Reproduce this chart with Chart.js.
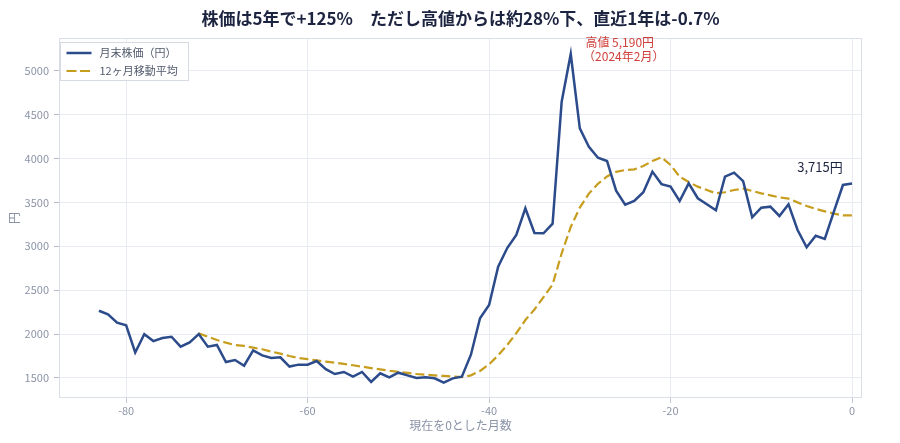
<!DOCTYPE html>
<html lang="ja">
<head>
<meta charset="utf-8">
<title>株価チャート</title>
<script src="https://cdn.jsdelivr.net/npm/chart.js@4.4.1/dist/chart.umd.min.js"></script>
<style>
  html, body { margin: 0; padding: 0; background: #ffffff; }
  #wrap { width: 900px; height: 443px; }
</style>
</head>
<body>
<div id="wrap"><canvas id="c" width="900" height="443"></canvas></div>
<script>
// ---- data ----
const months = [-83,-82,-81,-80,-79,-78,-77,-76,-75,-74,-73,-72,-71,-70,-69,-68,-67,-66,-65,-64,
  -63,-62,-61,-60,-59,-58,-57,-56,-55,-54,-53,-52,-51,-50,-49,-48,-47,-46,-45,-44,
  -43,-42,-41,-40,-39,-38,-37,-36,-35,-34,-33,-32,-31,-30,-29,-28,-27,-26,-25,-24,
  -23,-22,-21,-20,-19,-18,-17,-16,-15,-14,-13,-12,-11,-10,-9,-8,-7,-6,-5,-4,-3,-2,-1,0];

const monthlyPrice = [2266,2225,2130,2100,1790,1998,1920,1955,1970,1857,1906,2000,1857,1876,1682,1705,1640,1815,1758,1728,
  1735,1630,1652,1651,1693,1600,1545,1568,1515,1568,1455,1553,1508,1560,1530,1500,1508,1496,1447,1496,
  1515,1765,2180,2331,2768,2980,3129,3433,3152,3148,3257,4647,5190,4343,4134,4009,3971,3633,3474,3516,
  3615,3850,3708,3679,3516,3717,3547,3478,3410,3793,3838,3741,3330,3440,3451,3345,3478,3185,2988,3120,3083,3394,3698,3715];

const movingAvg12 = [null,null,null,null,null,null,null,null,null,null,null,2008,1970,1933,1902,1876,1865,1845,1827,1800,
  1777,1750,1728,1715,1700,1686,1674,1660,1645,1629,1613,1598,1583,1570,1558,1545,1537,1530,1523,1516,
  1510,1530,1580,1655,1758,1876,2010,2160,2280,2420,2565,2920,3220,3440,3600,3712,3795,3848,3868,3876,
  3914,3971,4013,3926,3793,3732,3679,3641,3603,3615,3641,3656,3630,3603,3580,3557,3542,3500,3459,3425,3398,3372,3353,3353];

const xTicks = [-80, -60, -40, -20, 0];
const yTicks = [1500, 2000, 2500, 3000, 3500, 4000, 4500, 5000];

const seriesNames = ['月末株価（円）', '12ヶ月移動平均'];
const titleText = '株価は5年で+125%　ただし高値からは約28%下、直近1年は-0.7%';
const peakMonth = -31, peakValue = 5190;
const peakLabel = ['高値 5,190円', '（2024年2月）'];
const lastLabel = '3,715円';

// ---- styles ----
const FONT = '"Noto Sans CJK JP", "Noto Sans", sans-serif';
const BLUE = '#2c4b8b';
const GOLD = '#c79d1e';
const DASH = [9, 4];
const GRID = '#e8ebf1';
const TICKC = '#8a93a6';

const priceData = months.map((m, i) => ({ x: m, y: monthlyPrice[i] }));
const maData = months.map((m, i) => ({ x: m, y: movingAvg12[i] }));

const frame = {
  id: 'frame',
  beforeDatasetsDraw(chart) {
    const { ctx, chartArea: a } = chart;
    ctx.save();
    ctx.strokeStyle = '#dadee6';
    ctx.lineWidth = 1;
    ctx.strokeRect(a.left + 0.5, a.top + 0.5, a.right - a.left - 1, a.bottom - a.top - 1);
    ctx.restore();
  }
};

const notes = {
  id: 'notes',
  afterDatasetsDraw(chart) {
    const { ctx } = chart;
    const xs = chart.scales.x, ys = chart.scales.y;
    ctx.save();
    ctx.textAlign = 'center';
    ctx.textBaseline = 'middle';
    // peak label
    const px = xs.getPixelForValue(peakMonth) + 50;
    const py = ys.getPixelForValue(peakValue);
    ctx.fillStyle = '#d0413c';
    ctx.font = '12px ' + FONT;
    ctx.fillText(peakLabel[0], px - 1, py - 12);
    ctx.fillText(peakLabel[1], px + 3, py + 2);
    // last value label
    const lx = xs.getPixelForValue(months[months.length - 1]) - 32;
    const ly = ys.getPixelForValue(monthlyPrice[monthlyPrice.length - 1]) - 16;
    ctx.fillStyle = '#1c2440';
    ctx.font = '13px ' + FONT;
    ctx.fillText(lastLabel, lx, ly);
    ctx.restore();
  }
};

const legendBox = {
  id: 'legendBox',
  afterDraw(chart) {
    const { ctx, chartArea: a } = chart;
    const bx = a.left + 1.5, by = a.top + 4.5, bw = 128, bh = 38;
    ctx.save();
    ctx.fillStyle = 'rgba(255,255,255,0.8)';
    ctx.fillRect(bx, by, bw, bh);
    ctx.strokeStyle = '#d6dae2';
    ctx.lineWidth = 1;
    ctx.strokeRect(bx, by, bw, bh);
    const rows = [
      { color: BLUE, dash: [], w: 2.5 },
      { color: GOLD, dash: [10, 3.5], w: 2.2 }
    ];
    rows.forEach((r, i) => {
      const y = by + 10.5 + i * 18;
      ctx.beginPath();
      ctx.setLineDash(r.dash);
      ctx.strokeStyle = r.color;
      ctx.lineWidth = r.w;
      ctx.moveTo(bx + 6, y);
      ctx.lineTo(bx + 31, y);
      ctx.stroke();
      ctx.setLineDash([]);
      ctx.fillStyle = '#525b6c';
      ctx.font = '11px ' + FONT;
      ctx.textAlign = 'left';
      ctx.textBaseline = 'middle';
      ctx.fillText(seriesNames[i], bx + 39, y);
    });
    ctx.restore();
  }
};

new Chart(document.getElementById('c'), {
  type: 'line',
  data: {
    datasets: [
      {
        label: seriesNames[0],
        data: priceData,
        borderColor: BLUE,
        backgroundColor: BLUE,
        borderWidth: 2.5,
        pointRadius: 0,
        tension: 0,
        fill: false
      },
      {
        label: seriesNames[1],
        data: maData,
        borderColor: GOLD,
        backgroundColor: GOLD,
        borderWidth: 2.2,
        borderDash: DASH,
        pointRadius: 0,
        tension: 0,
        fill: false,
        spanGaps: false
      }
    ]
  },
  options: {
    responsive: false,
    animation: false,
    devicePixelRatio: 1,
    layout: { padding: { left: 0, right: 38, top: 0, bottom: 0 } },
    plugins: {
      legend: { display: false },
      tooltip: { enabled: false },
      title: {
        display: true,
        text: titleText,
        fullSize: false,
        color: '#1c2440',
        font: { family: FONT, size: 17, weight: 'bold' },
        padding: { top: 8, bottom: 9.6 }
      }
    },
    scales: {
      x: {
        type: 'linear',
        min: -87.4,
        max: 1.1,
        afterFit(s) { s.height = 45; },
        afterBuildTicks(s) { s.ticks = xTicks.map(v => ({ value: v })); },
        grid: { color: GRID, lineWidth: 1, drawTicks: true, tickLength: 5, tickColor: '#c3c8d2' },
        border: { display: false },
        ticks: {
          color: TICKC,
          padding: 1,
          font: { family: FONT, size: 11 },
          maxRotation: 0,
          callback: v => String(v)
        },
        title: {
          display: true,
          text: '現在を0とした月数',
          color: TICKC,
          font: { family: FONT, size: 12 },
          padding: { top: 0, bottom: 10 }
        }
      },
      y: {
        type: 'linear',
        min: 1272,
        max: 5372,
        afterFit(s) { s.width = 59; },
        afterBuildTicks(s) { s.ticks = yTicks.map(v => ({ value: v })); },
        grid: { color: GRID, lineWidth: 1, drawTicks: true, tickLength: 5, tickColor: '#b5bbc6' },
        border: { display: false },
        ticks: {
          color: TICKC,
          padding: 5,
          font: { family: FONT, size: 11 },
          callback: v => String(v)
        },
        title: {
          display: true,
          text: '円',
          color: TICKC,
          font: { family: FONT, size: 12 },
          padding: { top: 7, bottom: 0 }
        }
      }
    }
  },
  plugins: [frame, notes, legendBox]
});
</script>
</body>
</html>
